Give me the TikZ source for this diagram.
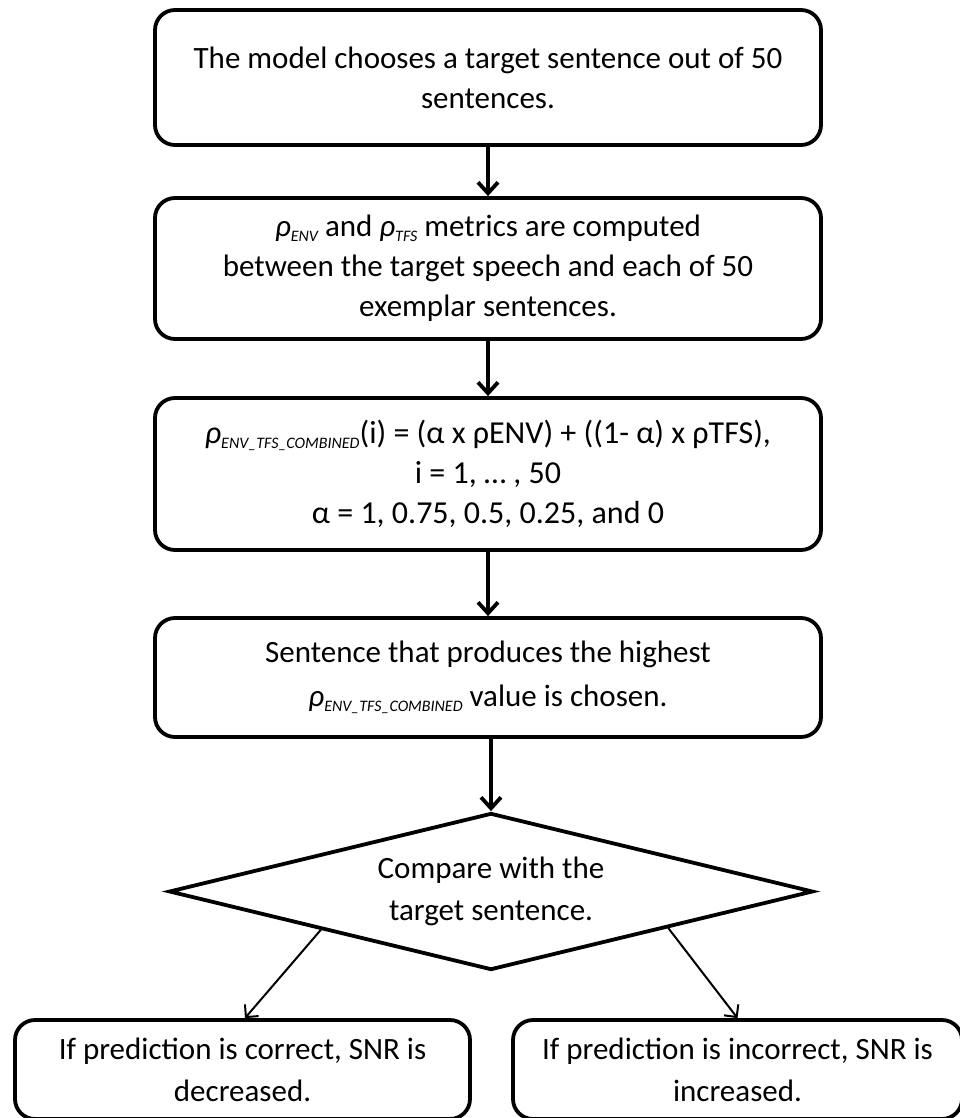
\documentclass[tikz,border=0pt]{standalone}
\usepackage{fontspec}
\setmainfont{Carlito}
\usetikzlibrary{arrows.meta,shapes.geometric,calc}
\tikzset{
  flowbox/.style={draw=black, line width=3.8pt, rounded corners=20pt, fill=white,
    align=center, inner sep=0pt, font=\fontsize{31}{40}\selectfont},
  decision/.style={draw=black, line width=3.8pt, diamond, aspect=4.1, fill=white, align=center,
    inner sep=0pt, font=\fontsize{31}{42}\selectfont},
  mainarrow/.style={line width=3.8pt, -{Straight Barb[length=11pt,width=20pt]}},
  thinarrow/.style={line width=2pt, -{Straight Barb[length=9pt,width=18pt]}},
}
\newcommand{\rhosub}[1]{{\itshape ρ}{\raisebox{-5pt}{\fontsize{16}{16}\selectfont\itshape #1}}}
\begin{document}
\begin{tikzpicture}[x=1pt,y=-1pt]
\useasboundingbox (0,0) rectangle (959,1118);
\fill[white] (0,0) rectangle (959,1118);

\node[flowbox, minimum width=666pt, minimum height=135pt] (b1) at (488,77.5)
  {The model chooses a target sentence out of 50\\sentences.};
\node[flowbox, minimum width=666pt, minimum height=141pt] (b2) at (488,268.5)
  {\rhosub{ENV} and \rhosub{TFS} metrics are computed\\between the target speech and each of 50\\exemplar sentences.};
\node[flowbox, minimum width=666pt, minimum height=152pt, font=\fontsize{32}{40}\selectfont] (b3) at (488,474)
  {\rhosub{ENV\_TFS\_COMBINED}(i) = (α x ρENV) + ((1- α) x ρTFS),\\i = 1, … , 50\\α = 1, 0.75, 0.5, 0.25, and 0};
\node[flowbox, minimum width=666pt, minimum height=119pt, font=\fontsize{31}{44}\selectfont] (b4) at (488,677.5)
  {Sentence that produces the highest\\\rhosub{ENV\_TFS\_COMBINED} value is chosen.};
\node[decision, minimum width=644pt, minimum height=157pt] (d) at (491,891.5)
  {Compare with the\\target sentence.};
\node[flowbox, minimum width=455pt, minimum height=99pt, font=\fontsize{31}{42}\selectfont] (b5) at (242.5,1069.5)
  {If prediction is correct, SNR is\\decreased.};
\node[flowbox, minimum width=449pt, minimum height=99pt, font=\fontsize{31}{42}\selectfont] (b6) at (737.5,1069.5)
  {If prediction is incorrect, SNR is\\increased.};

\draw[mainarrow] (b1.south) -- (b2.north);
\draw[mainarrow] (b2.south) -- (b3.north);
\draw[mainarrow] (b3.south) -- (b4.north);
\draw[mainarrow] (b4.south -| d.north) -- (d.north);

\coordinate (l1) at ($(d.west)!0.475!(d.south)$);
\coordinate (r1) at ($(d.east)!0.453!(d.south)$);
\draw[thinarrow] (l1) -- ([xshift=2.5pt]b5.north);
\draw[thinarrow] (r1) -- (b6.north);
\end{tikzpicture}
\end{document}
